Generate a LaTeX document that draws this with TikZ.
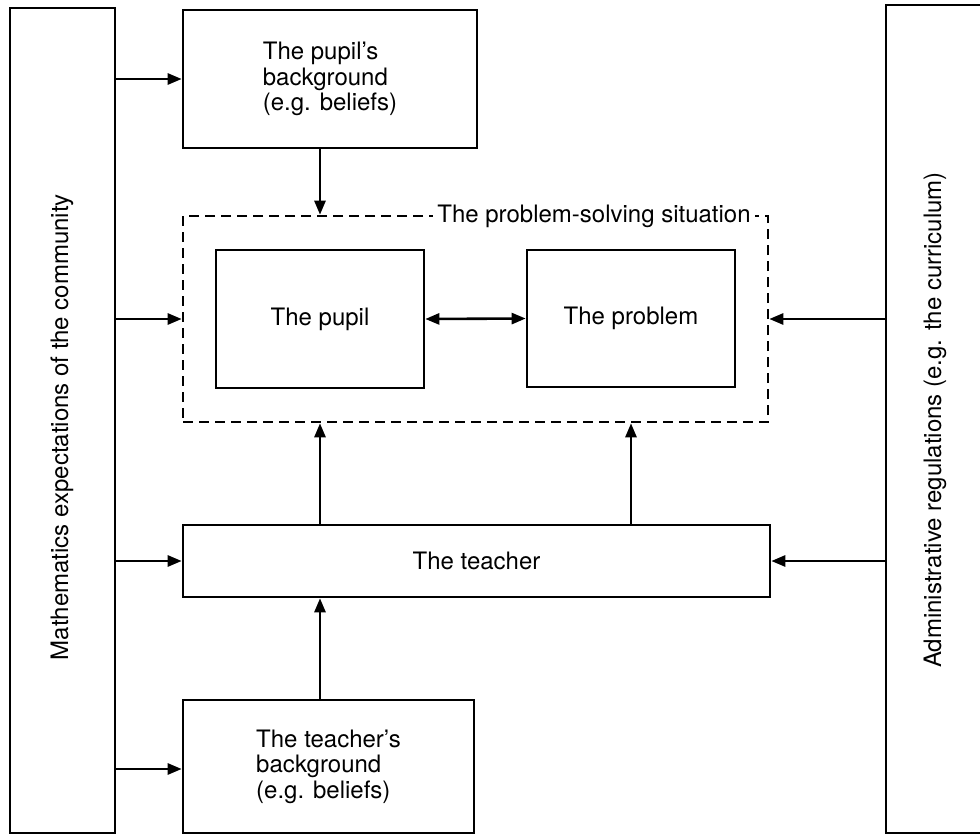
\documentclass[tikz,border=0pt]{standalone}
\usepackage{fontspec}
\setmainfont{TeX Gyre Heros}
\usetikzlibrary{arrows.meta,calc}
\tikzset{
  box/.style={draw, line width=2.6pt, inner sep=0pt, align=center,
    font=\fontsize{24}{25.5}\selectfont},
  lbox/.style={box, align=left},
  arr/.style={line width=2.6pt, -{Triangle[length=14pt,width=11pt]}},
  darr/.style={line width=2.6pt, {Triangle[length=14pt,width=11pt]}-{Triangle[length=14pt,width=11pt]}},
  dbox/.style={draw, line width=2.6pt, dash pattern=on 10pt off 6pt, inner sep=0pt},
  vtext/.style={rotate=90, font=\fontsize{24}{25.5}\selectfont},
}
\begin{document}
\begin{tikzpicture}[x=1pt,y=-1pt]
\clip (0,0) rectangle (980,836);
\fill[white] (0,0) rectangle (980,836);
% side boxes
\node[box, minimum width=105pt, minimum height=825pt] (L) at (62.5,420.5) {};
\node[vtext] (Lt) at (62,427) {Mathematics expectations of the community};
\node[box, minimum width=106pt, minimum height=828pt] (R) at (939,419) {};
\node[vtext] (Rt) at (935,420) {Administrative regulations (e.g. the curriculum)};
% central boxes
\node[lbox, minimum width=294pt, minimum height=138pt] (pbg) at (330,79)
  {The pupil's\\background\\(e.g. beliefs)};
\node[dbox, minimum width=585pt, minimum height=206pt] (ps) at (475.5,319) {};
\node[fill=white, inner xsep=4pt, inner ysep=1pt, anchor=base,
  font=\fontsize{24}{25.5}\selectfont] (psl) at (594,222) {The problem-solving situation};
\node[box, minimum width=208pt, minimum height=138pt] (pupil) at (320,319) {The pupil};
\node[box, minimum width=208pt, minimum height=137pt] (prob) at (631,318.5) {The problem};
\node[box, minimum width=587pt, minimum height=72pt] (teach) at (476.5,561) {The teacher};
\node[lbox, minimum width=291pt, minimum height=133pt] (tbg) at (328.5,766.5)
  {The teacher's\\background\\(e.g. beliefs)};
% connectors from left
\draw[arr] (L.east |- pbg.west) -- (pbg.west);
\draw[arr] (L.east |- ps.west) -- (ps.west);
\draw[arr] (L.east |- teach.west) -- (teach.west);
\coordinate (tbgin) at ($(tbg.west)+(0,2.5)$);
\draw[arr] (L.east |- tbgin) -- (tbgin);
% connectors from right
\draw[arr] (R.west |- ps.east) -- (ps.east);
\draw[arr] (R.west |- teach.east) -- (teach.east);
% vertical connectors
\draw[arr] (pbg.south -| pupil) -- (ps.north -| pupil);
\draw[arr] (teach.north -| pupil) -- (ps.south -| pupil);
\draw[arr] (teach.north -| prob) -- (ps.south -| prob);
\draw[arr] (tbg.north -| pupil) -- (teach.south -| pupil);
\draw[darr] (pupil.east) -- (prob.west);
\end{tikzpicture}
\end{document}
